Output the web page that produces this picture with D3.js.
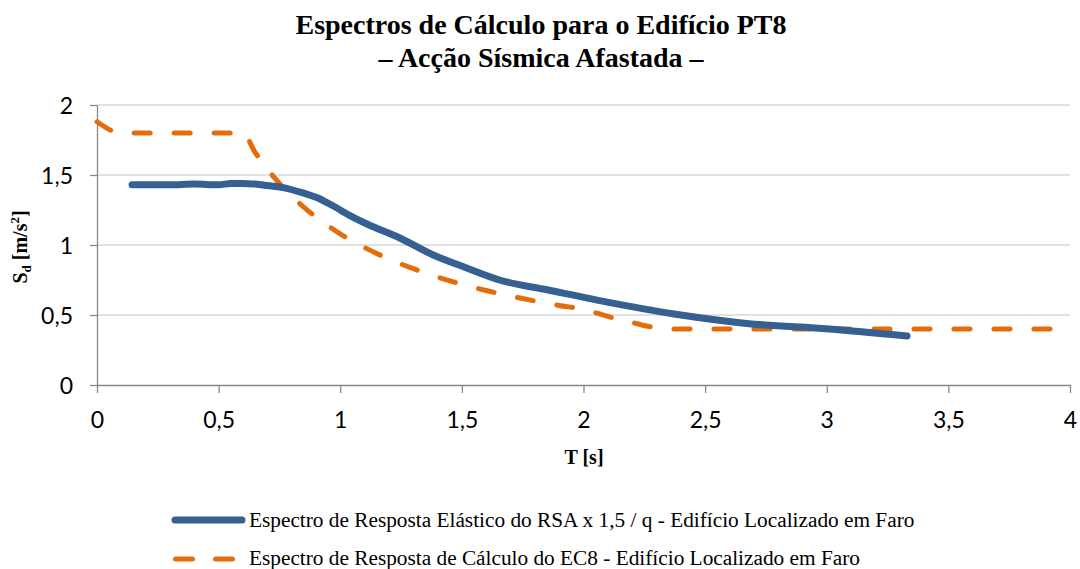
<!DOCTYPE html>
<html><head><meta charset="utf-8">
<script src="https://cdn.jsdelivr.net/npm/d3@7"></script>
<style>body{margin:0;background:#fff}</style>
</head><body>
<script>
const titleLines = ["Espectros de Cálculo para o Edifício PT8", "– Acção Sísmica Afastada –"];
const xTicks = [0, 0.5, 1, 1.5, 2, 2.5, 3, 3.5, 4];
const yTicks = [0, 0.5, 1, 1.5, 2];
const seriesNames = ["Espectro de Resposta Elástico do RSA x 1,5 / q - Edifício Localizado em Faro",
                     "Espectro de Resposta de Cálculo do EC8 - Edifício Localizado em Faro"];
const rsaT  = [0.144,0.2,0.3,0.4,0.5,0.55,0.6,0.65,0.7,0.765,0.85,0.903,0.97,1.04,1.11,1.245,1.38,1.52,1.655,1.85,2.12,2.4,2.67,3.01,3.33];
const rsaSd = [1.43,1.43,1.43,1.435,1.43,1.44,1.44,1.435,1.425,1.41,1.37,1.34,1.28,1.21,1.15,1.05,0.93,0.836,0.75,0.68,0.585,0.5,0.44,0.40,0.35];
const ec8T  = [0,0.1,0.6,0.65,0.7,0.75,0.8,0.85,0.9,0.95,1.0,1.1,1.2,1.3,1.4,1.5,1.6,1.7,1.8,1.9,2.0,2.1,2.2,2.3,2.35,4.0];
const ec8Sd = [1.88,1.8,1.8,1.662,1.543,1.44,1.35,1.271,1.2,1.137,1.08,0.982,0.9,0.831,0.771,0.72,0.675,0.635,0.6,0.568,0.54,0.49,0.446,0.408,0.40,0.40];

const W = 1080, H = 569;
const blue = "#376092", orange = "#E46C0A";
const svg = d3.select("body").append("svg").attr("width", W).attr("height", H);
svg.append("rect").attr("width", W).attr("height", H).attr("fill", "#fff");

const x = d3.scaleLinear().domain([0, 4]).range([97, 1070]);
const y = d3.scaleLinear().domain([0, 2]).range([385, 105]);
const fmt = d => String(d).replace(".", ",");

// gridlines
svg.append("g").selectAll("line").data(yTicks.filter(d => d > 0)).join("line")
  .attr("x1", x(0)).attr("x2", x(4)).attr("y1", d => y(d)).attr("y2", d => y(d))
  .attr("stroke", "#d9d9d9").attr("stroke-width", 1.3);

// axes
const tickFont = "Lato, 'Open Sans', sans-serif";
const xAxis = svg.append("g").attr("transform", `translate(0,${y(0)})`)
  .call(d3.axisBottom(x).tickValues(xTicks).tickFormat(fmt).tickSizeInner(8).tickSizeOuter(0));
const yAxis = svg.append("g").attr("transform", `translate(${x(0)},0)`)
  .call(d3.axisLeft(y).tickValues(yTicks).tickFormat(fmt).tickSizeInner(7).tickSizeOuter(0).tickPadding(17));
[xAxis, yAxis].forEach(g => {
  g.select(".domain").attr("stroke", "#888").attr("stroke-width", 1.3);
  g.selectAll(".tick line").attr("stroke", "#888").attr("stroke-width", 1.3);
  g.selectAll(".tick text").attr("fill", "#000").attr("font-family", tickFont).attr("font-size", 23);
});
xAxis.selectAll(".tick text").attr("y", 35).attr("dy", "0.36em");
yAxis.selectAll(".tick text").attr("dy", "0.36em");

// lines
const rsa = rsaT.map((t, i) => [t, rsaSd[i]]);
const ec8 = ec8T.map((t, i) => [t, ec8Sd[i]]);
svg.append("path").datum(ec8)
  .attr("d", d3.line().x(d => x(d[0])).y(d => y(d[1])).curve(d3.curveMonotoneX))
  .attr("fill", "none").attr("stroke", orange).attr("stroke-width", 5)
  .attr("stroke-dasharray", "16,24").attr("stroke-linecap", "round");
svg.append("path").datum(rsa)
  .attr("d", d3.line().x(d => x(d[0])).y(d => y(d[1])).curve(d3.curveMonotoneX))
  .attr("fill", "none").attr("stroke", blue).attr("stroke-width", 7)
  .attr("stroke-linecap", "round").attr("stroke-linejoin", "round");

// title
const serif = "'Liberation Serif', 'Times New Roman', serif";
svg.append("text").attr("x", 541).attr("y", 34).attr("text-anchor", "middle")
  .attr("font-family", serif).attr("font-weight", "bold").attr("font-size", 28).text(titleLines[0]);
svg.append("text").attr("x", 541).attr("y", 67).attr("text-anchor", "middle")
  .attr("font-family", serif).attr("font-weight", "bold").attr("font-size", 28).text(titleLines[1]);

// axis titles
svg.append("text").attr("x", 584).attr("y", 464).attr("text-anchor", "middle")
  .attr("font-family", serif).attr("font-weight", "bold").attr("font-size", 20).text("T [s]");
const yl = svg.append("text").attr("transform", "translate(27,247) rotate(-90)").attr("text-anchor", "middle")
  .attr("font-family", serif).attr("font-weight", "bold").attr("font-size", 20);
yl.append("tspan").text("S");
yl.append("tspan").attr("font-size", 13).attr("dy", 4).text("d");
yl.append("tspan").attr("dy", -4).text(" [m/s");
yl.append("tspan").attr("font-size", 13).attr("dy", -8).text("2");
yl.append("tspan").attr("dy", 8).text("]");

// legend
svg.append("line").attr("x1", 175).attr("x2", 242).attr("y1", 520).attr("y2", 520)
  .attr("stroke", blue).attr("stroke-width", 7).attr("stroke-linecap", "round");
svg.append("line").attr("x1", 175.5).attr("x2", 232.5).attr("y1", 559).attr("y2", 559)
  .attr("stroke", orange).attr("stroke-width", 5).attr("stroke-dasharray", "17,23").attr("stroke-linecap", "round");
svg.append("text").attr("x", 249).attr("y", 527).attr("font-family", serif).attr("font-size", 21.3).text(seriesNames[0]);
svg.append("text").attr("x", 249).attr("y", 565).attr("font-family", serif).attr("font-size", 21.3).text(seriesNames[1]);
</script>
</body></html>
